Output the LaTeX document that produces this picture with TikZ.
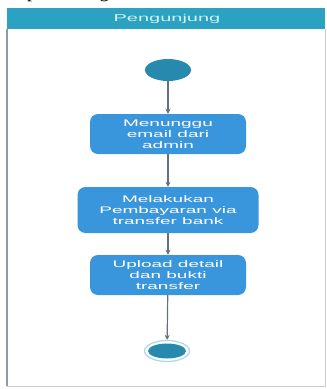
\documentclass[tikz,border=0pt]{standalone}
\usepackage{fontspec}
\setmainfont{Liberation Serif}
\newfontfamily\widesans[FakeStretch=2.0]{Liberation Sans}
\usetikzlibrary{shapes.geometric,arrows.meta}
\definecolor{headteal}{HTML}{2CA2C2}
\definecolor{boxblue}{HTML}{3A96DC}
\definecolor{dotteal}{HTML}{2689AD}
\definecolor{ringblue}{HTML}{A6DAEA}
\definecolor{arrgray}{HTML}{687078}
\definecolor{framegray}{HTML}{8E9CA0}
\definecolor{headtext}{HTML}{D8F0EC}
\tikzset{
  actbox/.style={rectangle, rounded corners=8pt, fill=boxblue, text=white,
    align=center, inner sep=0pt, font=\widesans\fontsize{9.5}{10.8}\selectfont},
  flowarr/.style={draw=arrgray, line width=1.2pt, -{Stealth[length=5pt,width=5pt]}},
}
\begin{document}
\begin{tikzpicture}[x=1pt,y=-1pt]
\useasboundingbox (0,0) rectangle (327,389);
\fill[white] (0,0) rectangle (327,389);
% cut-off line of text above (only descenders show)
\begin{scope}
\clip (0,0) rectangle (327,8);
\node[anchor=base west, inner sep=0pt, font=\fontsize{20}{20}\selectfont] (prev) at (27,-2.5) {perancangan};
\end{scope}
% swimlane frame
\draw[draw=framegray!50, line width=0.8pt] (7,29) -- (7,386) -- (325,386) -- (325,29);
\draw[draw=framegray, line width=2pt] (7,29) -- (7,386);
\fill[headteal] (7,8) rectangle (325,29);
\node[text=headtext, font=\widesans\fontsize{10}{12}\selectfont, inner sep=0pt] (lane) at (167,18.5) {Pengunjung};
% start
\node[ellipse, fill=dotteal, minimum width=46pt, minimum height=22pt, inner sep=0pt] (start) at (168,70) {};
% activities
\node[actbox, minimum width=156pt, minimum height=40pt] (b1) at (168,134) {Menunggu\\email dari\\admin};
\node[actbox, minimum width=181pt, minimum height=46pt] (b2) at (168,210) {Melakukan\\Pembayaran via\\transfer bank};
\node[actbox, minimum width=156pt, minimum height=40pt] (b3) at (168,275) {Upload detail\\dan bukti\\transfer};
% end
\node[ellipse, draw=ringblue, line width=1.2pt, fill=white, minimum width=45pt, minimum height=21pt, inner sep=0pt] (stop) at (167,351) {};
\node[ellipse, fill=dotteal, minimum width=38pt, minimum height=15pt, inner sep=0pt] (stopdot) at (stop.center) {};
% connectors
\draw[flowarr] (start) -- (b1);
\draw[flowarr] (b1) -- (b2);
\draw[flowarr] (b2) -- (b3);
\draw[flowarr] (b3) -- (stop);
\end{tikzpicture}
\end{document}
